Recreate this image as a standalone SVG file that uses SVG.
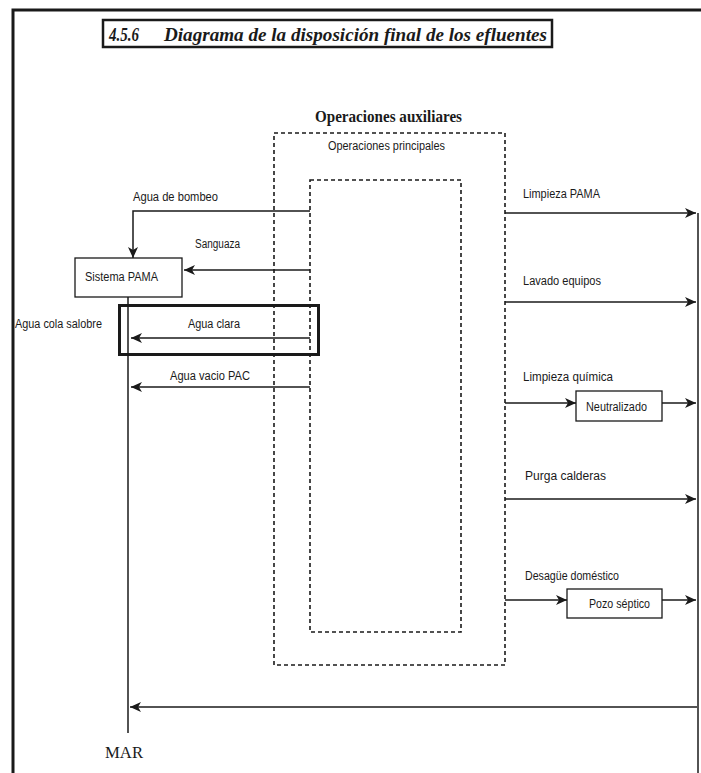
<svg xmlns="http://www.w3.org/2000/svg" width="701" height="773" viewBox="0 0 701 773">
<defs>
<marker id="ah" markerUnits="userSpaceOnUse" markerWidth="12" markerHeight="10" refX="11" refY="5" orient="auto">
<path d="M0,0 L11,5 L0,10 L3,5 Z" fill="#1a1a1a"/>
</marker>
</defs>
<style>
.ln{fill:none;stroke:#1a1a1a;stroke-width:1.5}
.box{fill:#fff;stroke:#1a1a1a;stroke-width:1.3}
.dash{fill:none;stroke:#1a1a1a;stroke-width:1.6;stroke-dasharray:4 3}
.lbl{font-family:"Liberation Sans",Arial,sans-serif;font-size:12.5px;fill:#1a1a1a}
.ser{font-family:"Liberation Serif","Times New Roman",serif;fill:#1a1a1a}
</style>
<rect width="701" height="773" fill="#fff"/>
<g id="frame">
<path d="M13,773 V10 H701" fill="none" stroke="#1a1a1a" stroke-width="3"/>
</g>
<g id="title">
<rect x="103" y="20" width="449" height="27" fill="#fff" stroke="#1a1a1a" stroke-width="2.5"/>
<text x="109" y="41" class="ser" font-size="18" font-weight="bold" font-style="italic" textLength="30" lengthAdjust="spacingAndGlyphs">4.5.6</text>
<text x="164" y="41" class="ser" font-size="18" font-weight="bold" font-style="italic" textLength="383" lengthAdjust="spacingAndGlyphs">Diagrama de la disposición final de los efluentes</text>
</g>
<g id="aux">
<rect x="274" y="133" width="231" height="532" class="dash"/>
<text x="315" y="122" class="ser" font-size="16" font-weight="bold" textLength="147" lengthAdjust="spacingAndGlyphs">Operaciones auxiliares</text>
</g>
<g id="principales">
<rect x="310" y="180" width="151" height="452" class="dash"/>
<text x="328" y="150" class="lbl" textLength="117" lengthAdjust="spacingAndGlyphs">Operaciones principales</text>
</g>
<g id="pama">
<rect x="75" y="258" width="107" height="39" class="box"/>
<text x="85" y="281" class="lbl" textLength="73" lengthAdjust="spacingAndGlyphs">Sistema PAMA</text>
</g>
<g id="clara-box">
<rect x="119.5" y="305.5" width="199" height="49" fill="none" stroke="#1a1a1a" stroke-width="3"/>
</g>
<g id="neutralizado">
<rect x="576" y="391" width="86" height="30" class="box"/>
<text x="586" y="411" class="lbl" textLength="61" lengthAdjust="spacingAndGlyphs">Neutralizado</text>
</g>
<g id="pozo">
<rect x="567" y="589" width="95" height="29" class="box"/>
<text x="589" y="608" class="lbl" textLength="61" lengthAdjust="spacingAndGlyphs">Pozo séptico</text>
</g>
<g id="mar">
<text x="105" y="758" class="ser" font-size="16" textLength="38" lengthAdjust="spacingAndGlyphs">MAR</text>
</g>
<g id="connectors">
<path d="M310,211 H133 V258" class="ln" marker-end="url(#ah)"/>
<path d="M310,270 H184" class="ln" marker-end="url(#ah)"/>
<path d="M310,338 H131" class="ln" marker-end="url(#ah)"/>
<path d="M310,387 H131" class="ln" marker-end="url(#ah)"/>
<path d="M128,297 V733" class="ln"/>
<path d="M697,707 H130" class="ln" marker-end="url(#ah)"/>
<path d="M698,213 V773" class="ln" stroke-width="2"/>
<path d="M505,213 H696" class="ln" marker-end="url(#ah)"/>
<path d="M505,302 H696" class="ln" marker-end="url(#ah)"/>
<path d="M505,403 H576" class="ln" marker-end="url(#ah)"/>
<path d="M662,403 H696" class="ln" marker-end="url(#ah)"/>
<path d="M505,499 H696" class="ln" marker-end="url(#ah)"/>
<path d="M505,600 H567" class="ln" marker-end="url(#ah)"/>
<path d="M662,600 H696" class="ln" marker-end="url(#ah)"/>
</g>
<g id="labels">
<text x="133" y="201" class="lbl" textLength="85" lengthAdjust="spacingAndGlyphs">Agua de bombeo</text>
<text x="195" y="248" class="lbl" textLength="45" lengthAdjust="spacingAndGlyphs">Sanguaza</text>
<text x="15" y="328" class="lbl" textLength="87" lengthAdjust="spacingAndGlyphs">Agua cola salobre</text>
<text x="188" y="328" class="lbl" textLength="52" lengthAdjust="spacingAndGlyphs">Agua clara</text>
<text x="170" y="380" class="lbl" textLength="80" lengthAdjust="spacingAndGlyphs">Agua vacio PAC</text>
<text x="523" y="198" class="lbl" textLength="77" lengthAdjust="spacingAndGlyphs">Limpieza PAMA</text>
<text x="523" y="285" class="lbl" textLength="78" lengthAdjust="spacingAndGlyphs">Lavado equipos</text>
<text x="523" y="381" class="lbl" textLength="90" lengthAdjust="spacingAndGlyphs">Limpieza química</text>
<text x="525" y="480" class="lbl" textLength="81" lengthAdjust="spacingAndGlyphs">Purga calderas</text>
<text x="525" y="580" class="lbl" textLength="94" lengthAdjust="spacingAndGlyphs">Desagüe doméstico</text>
</g>
</svg>
